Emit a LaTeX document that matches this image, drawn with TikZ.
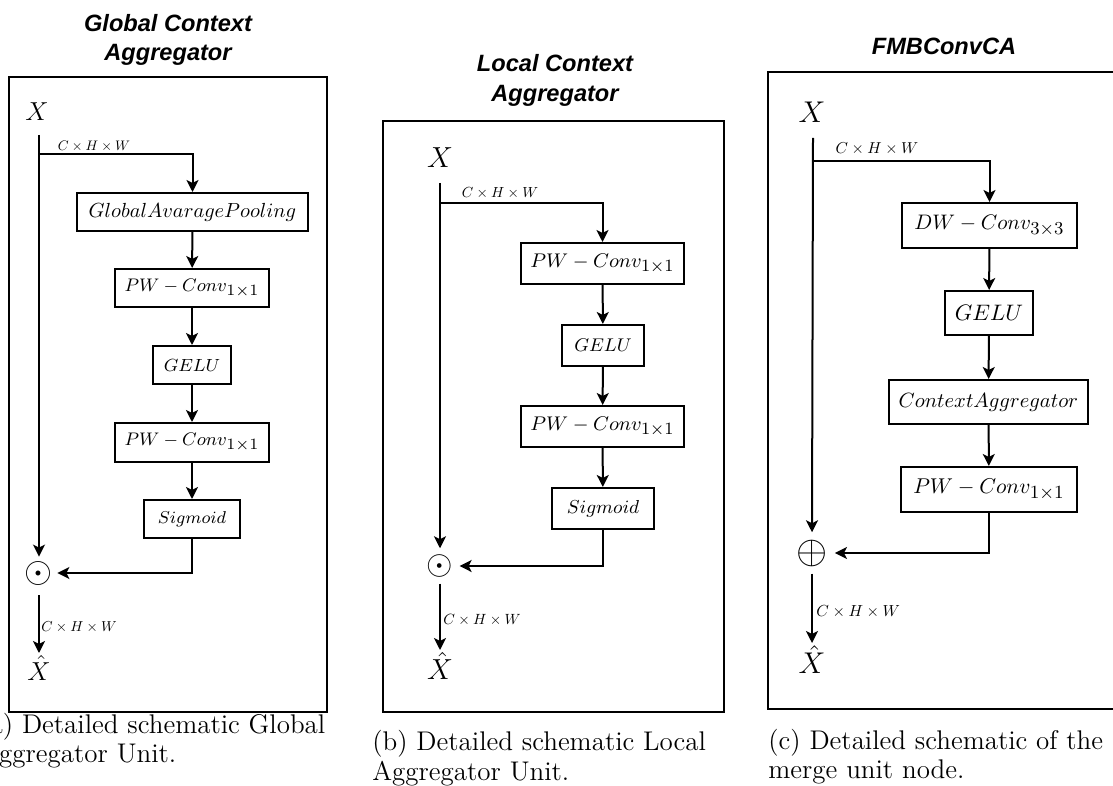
\RequirePackage{fix-cm}
\documentclass[tikz,border=0pt]{standalone}
\usepackage{fontspec}
\newfontfamily\headfont{Liberation Sans}
\usetikzlibrary{arrows.meta}
\newcommand{\fsz}[1]{\fontsize{#1pt}{#1pt}\selectfont}
% large subscripts inside the operator boxes
\DeclareMathSizes{9.1}{9.1}{7.9}{6}
\DeclareMathSizes{9.9}{9.9}{8.6}{6.5}
\DeclareMathSizes{10.5}{10.5}{9.1}{7}
\DeclareMathSizes{10.7}{10.7}{9.3}{7}
% tensor-shape label, 10pt design scaled down
\newcommand{\shapelbl}[1]{\scalebox{#1}{\fsz{10}$C\times H\times W$}}

\begin{document}
\begin{tikzpicture}[x=0.5pt,y=-0.5pt,
  arr/.style={-{Stealth[length=6pt,width=6pt,inset=1.5pt]}, line width=1pt},
  blk/.style={draw, line width=1pt, inner sep=0pt, rectangle},
  bx/.style n args={2}{minimum width={#1*0.5pt}, minimum height={#2*0.5pt}},
  panelframe/.style={draw, line width=1.2pt},
  headtext/.style={font=\headfont\bfseries\itshape\fsz{11.8}, anchor=base, inner sep=0pt},
  captext/.style={font=\fsz{13.5}, anchor=base west, inner sep=0pt},
  dimtext/.style={inner sep=0pt},
  vartext/.style={inner sep=1pt},
]
\useasboundingbox (0,0) rectangle (1113,786);

% ---------------- (a) Global Context Aggregator ----------------
\draw[panelframe] (9,77) rectangle (327,712);
\node[headtext] (ta1) at (168,32) {Global Context};
\node[headtext] (ta2) at (168,61) {Aggregator};
\node[vartext, font=\fsz{13}] (xa) at (37,112) {$X$};
\coordinate (sa) at (39,135);
\coordinate (ba) at (39,154);
\node[dimtext] (da) at (94,146) {\shapelbl{0.69}};
\node[blk, bx={231}{38}, font=\fsz{10.2}] (gapa) at (192.5,212) {$GlobalAvaragePooling$};
\node[blk, bx={154}{38}, font=\fsz{9.1}] (pwa1) at (192,288) {$PW-Conv_{1\times1}$};
\node[blk, bx={78}{38}, font=\fsz{8.8}] (gelua) at (192,365) {$GELU$};
\node[blk, bx={154}{39}, font=\fsz{9.1}] (pwa2) at (192,442.5) {$PW-Conv_{1\times1}$};
\node[blk, bx={96}{38}, font=\fsz{8.6}] (siga) at (192,519) {$Sigmoid$};
\node[inner sep=2pt, font=\fsz{18}] (mula) at (39,573) {$\odot$};
\node[vartext, font=\fsz{13}, anchor=north] (ya) at (39,653) {$\hat{X}$};
\node[dimtext, anchor=west] (dla) at (41,627) {\shapelbl{0.72}};

\draw[arr] (sa) -- (mula.north);
\draw[arr] (ba) -| (gapa.north);
\draw[arr] (gapa) -- (pwa1);
\draw[arr] (pwa1) -- (gelua);
\draw[arr] (gelua) -- (pwa2);
\draw[arr] (pwa2) -- (siga);
\draw[arr] (siga.south) |- (mula.east);
\draw[arr, shorten <=3pt] (mula.south) -- (ya.north);

\node[captext] (ca1) at (-21,733) {(a) Detailed schematic Global};
\node[captext] (ca2) at (-21,762) {Aggregator Unit.};

% ---------------- (b) Local Context Aggregator ----------------
\draw[panelframe] (383,121) rectangle (724,712);
\node[headtext] (tb1) at (555,72) {Local Context};
\node[headtext] (tb2) at (555,102) {Aggregator};
\node[vartext, font=\fsz{14.5}] (xb) at (440,158) {$X$};
\coordinate (sb) at (440,183);
\coordinate (bb) at (440,203);
\node[dimtext] (db) at (500,193) {\shapelbl{0.73}};
\node[blk, bx={163}{41}, font=\fsz{9.9}] (pwb1) at (602.5,263.5) {$PW-Conv_{1\times1}$};
\node[blk, bx={82}{41}, font=\fsz{9.2}] (gelub) at (603,345.5) {$GELU$};
\node[blk, bx={163}{41}, font=\fsz{9.9}] (pwb2) at (602.5,426.5) {$PW-Conv_{1\times1}$};
\node[blk, bx={102}{41}, font=\fsz{9.4}] (sigb) at (603,508.5) {$Sigmoid$};
\node[inner sep=3pt, font=\fsz{17}] (mulb) at (440,566) {$\odot$};
\node[vartext, font=\fsz{14.5}, anchor=north] (yb) at (440,650) {$\hat{X}$};
\node[dimtext, anchor=west] (dlb) at (443,620) {\shapelbl{0.74}};

\draw[arr] (sb) -- (mulb.north);
\draw[arr] (bb) -| (pwb1.north);
\draw[arr] (pwb1) -- (gelub);
\draw[arr] (gelub) -- (pwb2);
\draw[arr] (pwb2) -- (sigb);
\draw[arr] (sigb.south) |- (mulb.east);
\draw[arr] (mulb.south) -- (yb.north);

\node[captext] (cb1) at (372,750) {(b) Detailed schematic Local};
\node[captext] (cb2) at (372,780) {Aggregator Unit.};

% ---------------- (c) FMBConvCA ----------------
\draw[panelframe] (768,72) rectangle (1125,709);
\node[headtext] (tc1) at (944,55) {FMBConvCA};
\node[vartext, font=\fsz{15}] (xc) at (812,112) {$X$};
\coordinate (sc) at (813,138);
\coordinate (bc) at (813,161);
\node[dimtext] (dc) at (877,149) {\shapelbl{0.79}};
\node[blk, bx={175}{45}, font=\fsz{10.5}] (dwc) at (989.5,225.5) {$DW-Conv_{3\times3}$};
\node[blk, bx={88}{44}, font=\fsz{11.2}] (geluc) at (989,313) {$GELU$};
\node[blk, bx={199}{44}, font=\fsz{10.3}] (cac) at (988.5,402) {$ContextAggregator$};
\node[blk, bx={176}{45}, font=\fsz{10.7}] (pwc) at (989,489.5) {$PW-Conv_{1\times1}$};
\node[inner sep=3.5pt, font=\fsz{20}] (addc) at (812,553) {$\oplus$};
\node[vartext, font=\fsz{15}, anchor=north] (yc) at (812,643) {$\hat{X}$};
\node[dimtext, anchor=west] (dlc) at (816,612) {\shapelbl{0.80}};

\draw[arr] (sc) -- (addc.north);
\draw[arr] (bc) -| (dwc.north);
\draw[arr] (dwc) -- (geluc);
\draw[arr] (geluc) -- (cac);
\draw[arr] (cac) -- (pwc);
\draw[arr] (pwc.south) |- (addc.east);
\draw[arr] (addc.south) -- (yc.north);

\node[captext] (cc1) at (768,749) {(c) Detailed schematic of the};
\node[captext] (cc2) at (768,778) {merge unit node.};
\end{tikzpicture}
\end{document}
